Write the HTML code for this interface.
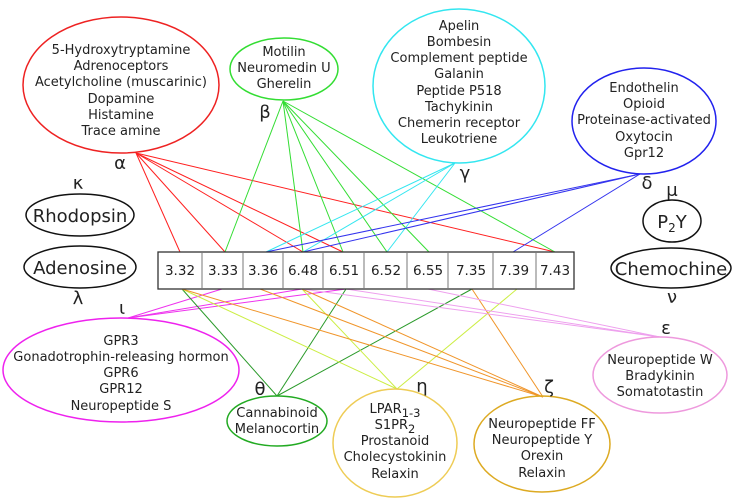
<!DOCTYPE html>
<html><head><meta charset="utf-8"><style>
html,body{margin:0;padding:0;background:#fff;}
svg{display:block;}
text{font-family:"DejaVu Sans","Liberation Sans",sans-serif;fill:#222;}
</style></head><body>
<svg width="741" height="502" viewBox="0 0 741 502" xmlns="http://www.w3.org/2000/svg">
<g stroke-width="1" fill="none">
<g stroke="#ff2020">
<line x1="136" y1="153" x2="180" y2="252"/><line x1="136" y1="153" x2="225" y2="252"/>
<line x1="136" y1="153" x2="303" y2="252"/><line x1="136" y1="153" x2="343" y2="252"/>
<line x1="136" y1="153" x2="555" y2="252"/></g>
<g stroke="#33dd33">
<line x1="283" y1="101" x2="225" y2="252"/><line x1="283" y1="101" x2="303" y2="252"/>
<line x1="283" y1="101" x2="343" y2="252"/><line x1="283" y1="101" x2="387" y2="252"/>
<line x1="283" y1="101" x2="429" y2="252"/><line x1="283" y1="101" x2="555" y2="252"/></g>
<g stroke="#33e6f0">
<line x1="455" y1="163" x2="266" y2="252"/><line x1="455" y1="163" x2="303" y2="252"/>
<line x1="455" y1="163" x2="387" y2="252"/></g>
<g stroke="#3333ee">
<line x1="640" y1="174" x2="266" y2="252"/><line x1="640" y1="174" x2="303" y2="252"/>
<line x1="640" y1="174" x2="513" y2="252"/></g>
<g stroke="#ee33ee">
<line x1="128" y1="318" x2="222" y2="289"/><line x1="128" y1="318" x2="302" y2="289"/>
<line x1="128" y1="318" x2="346" y2="289"/></g>
<g stroke="#2a9a2a">
<line x1="277" y1="396" x2="182" y2="289"/><line x1="277" y1="396" x2="346" y2="289"/>
<line x1="277" y1="396" x2="472" y2="289"/></g>
<g stroke="#ccee44">
<line x1="397" y1="389" x2="182" y2="289"/><line x1="397" y1="389" x2="302" y2="289"/>
<line x1="397" y1="389" x2="517" y2="289"/></g>
<g stroke="#f0952a">
<line x1="543" y1="397" x2="182" y2="289"/><line x1="543" y1="397" x2="260" y2="289"/>
<line x1="543" y1="397" x2="302" y2="289"/><line x1="543" y1="397" x2="472" y2="289"/></g>
<g stroke="#eea0ee">
<line x1="660" y1="337" x2="302" y2="289"/><line x1="660" y1="337" x2="346" y2="289"/>
<line x1="660" y1="337" x2="428" y2="289"/></g>
</g>

<g stroke="#333" stroke-width="1.3" fill="#fff">
<rect x="158" y="252" width="416" height="37"/>
</g>
<g stroke="#777" stroke-width="1">
<line x1="202" y1="252" x2="202" y2="289"/><line x1="243" y1="252" x2="243" y2="289"/>
<line x1="283" y1="252" x2="283" y2="289"/><line x1="323" y1="252" x2="323" y2="289"/>
<line x1="364" y1="252" x2="364" y2="289"/><line x1="407" y1="252" x2="407" y2="289"/>
<line x1="448" y1="252" x2="448" y2="289"/><line x1="493" y1="252" x2="493" y2="289"/>
<line x1="536" y1="252" x2="536" y2="289"/>
</g>
<g font-size="13.5" text-anchor="middle">
<text x="180" y="275">3.32</text><text x="223" y="275">3.33</text><text x="263" y="275">3.36</text>
<text x="303" y="275">6.48</text><text x="344" y="275">6.51</text><text x="386" y="275">6.52</text>
<text x="428" y="275">6.55</text><text x="471" y="275">7.35</text><text x="514" y="275">7.39</text>
<text x="555" y="275">7.43</text>
</g>

<g fill="none" stroke-width="1.5">
<ellipse cx="121" cy="85" rx="98" ry="68" stroke="#ee2222"/>
<ellipse cx="284" cy="69" rx="54" ry="31" stroke="#33dd33"/>
<ellipse cx="459" cy="86" rx="86" ry="77" stroke="#33e6f0"/>
<ellipse cx="644" cy="121" rx="72" ry="53" stroke="#2222ee"/>
<ellipse cx="672" cy="221" rx="29" ry="21" stroke="#111"/>
<ellipse cx="671" cy="268" rx="60" ry="20" stroke="#111"/>
<ellipse cx="80" cy="215" rx="54" ry="21" stroke="#111"/>
<ellipse cx="80" cy="267" rx="56" ry="21" stroke="#111"/>
<ellipse cx="121" cy="370" rx="118" ry="52" stroke="#ee22ee"/>
<ellipse cx="277" cy="421" rx="50" ry="25" stroke="#22aa22"/>
<ellipse cx="395" cy="443" rx="62" ry="54" stroke="#eecc55"/>
<ellipse cx="542" cy="444" rx="68" ry="48" stroke="#ddaa22"/>
<ellipse cx="660" cy="375" rx="67" ry="38" stroke="#ee99dd"/>
</g>

<g font-size="13" text-anchor="middle">
<text x="121" y="54">5-Hydroxytryptamine</text><text x="121" y="70">Adrenoceptors</text>
<text x="121" y="86">Acetylcholine (muscarinic)</text><text x="121" y="103">Dopamine</text>
<text x="121" y="119">Histamine</text><text x="121" y="135">Trace amine</text>
<text x="284" y="56">Motilin</text><text x="284" y="72">Neuromedin U</text><text x="284" y="88">Gherelin</text>
<text x="459" y="30">Apelin</text><text x="459" y="46">Bombesin</text><text x="459" y="62">Complement peptide</text>
<text x="459" y="78">Galanin</text><text x="459" y="95">Peptide P518</text><text x="459" y="111">Tachykinin</text>
<text x="459" y="127">Chemerin receptor</text><text x="459" y="143">Leukotriene</text>
<text x="644" y="92">Endothelin</text><text x="644" y="108">Opioid</text>
<text x="644" y="124">Proteinase-activated</text><text x="644" y="141">Oxytocin</text><text x="644" y="157">Gpr12</text>
<text x="121" y="345">GPR3</text><text x="121" y="361">Gonadotrophin-releasing hormon</text>
<text x="121" y="377">GPR6</text><text x="121" y="393">GPR12</text><text x="121" y="410">Neuropeptide S</text>
<text x="277" y="417">Cannabinoid</text><text x="277" y="433">Melanocortin</text>
<text x="395" y="413">LPAR<tspan font-size="11.5" dy="4">1-3</tspan></text>
<text x="395" y="429">S1PR<tspan font-size="11.5" dy="4">2</tspan></text>
<text x="395" y="445">Prostanoid</text><text x="395" y="461">Cholecystokinin</text><text x="395" y="478">Relaxin</text>
<text x="542" y="428">Neuropeptide FF</text><text x="542" y="444">Neuropeptide Y</text>
<text x="542" y="460">Orexin</text><text x="542" y="477">Relaxin</text>
<text x="660" y="364">Neuropeptide W</text><text x="660" y="380">Bradykinin</text><text x="660" y="396">Somatotastin</text>
</g>
<g font-size="18" text-anchor="middle">
<text x="80" y="222">Rhodopsin</text><text x="80" y="274">Adenosine</text>
<text x="671" y="275">Chemochine</text>
<text x="672" y="228">P<tspan font-size="12" dy="4">2</tspan><tspan dy="-4">Y</tspan></text>
</g>
<g font-size="18" text-anchor="middle">
<text x="120" y="169">α</text><text x="265" y="118">β</text><text x="465" y="179">γ</text>
<text x="647" y="189">δ</text><text x="672" y="196">μ</text><text x="78" y="189">κ</text>
<text x="78" y="304">λ</text><text x="672" y="303">ν</text><text x="122" y="314">ι</text>
<text x="260" y="395">θ</text><text x="422" y="392">η</text><text x="549" y="393">ζ</text>
<text x="666" y="334">ε</text>
</g>
</svg>
</body></html>
